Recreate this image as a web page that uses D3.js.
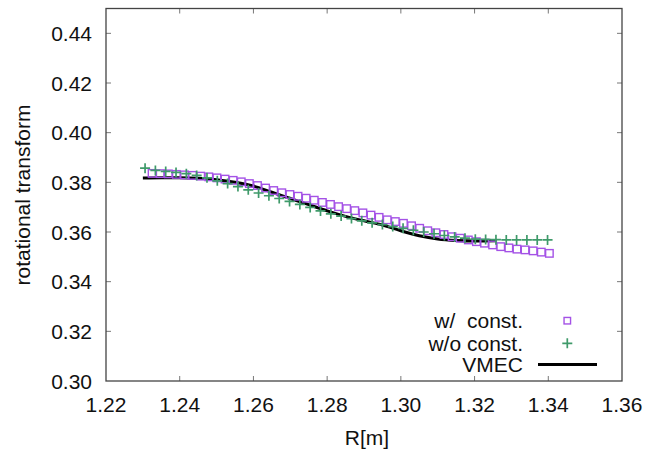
<!DOCTYPE html>
<html>
<head>
<meta charset="utf-8">
<script src="https://cdn.jsdelivr.net/npm/d3@7"></script>
<style>
  html, body { margin: 0; padding: 0; background: #fff; }
  svg { display: block; }
  text { font-family: "Liberation Sans", Arial, Helvetica, sans-serif; fill: #111; }
</style>
</head>
<body>
<script>
// ---- data ----
const xTicks = [1.22, 1.24, 1.26, 1.28, 1.30, 1.32, 1.34, 1.36];
const yTicks = [0.30, 0.32, 0.34, 0.36, 0.38, 0.40, 0.42, 0.44];

const withConstR = [1.2325,1.2347,1.2369,1.2391,1.2413,1.2435,1.2457,1.2479,1.2501,1.2523,
  1.2545,1.2567,1.2589,1.2611,1.2633,1.2655,1.2677,1.2699,1.2721,1.2743,
  1.2765,1.2787,1.2809,1.2831,1.2853,1.2875,1.2897,1.2919,1.2941,1.2963,
  1.2985,1.3007,1.3029,1.3051,1.3073,1.3095,1.3117,1.3139,1.3161,1.3183,
  1.3205,1.3227,1.3249,1.3271,1.3293,1.3315,1.3337,1.3359,1.3381,1.3403];
const withConstIota = [0.3836,0.3835,0.3834,0.3832,0.3830,0.3828,0.3825,0.3822,0.3818,0.3813,
  0.3808,0.3802,0.3795,0.3787,0.3777,0.3767,0.3758,0.3751,0.3744,0.3736,
  0.3728,0.3719,0.3711,0.3702,0.3694,0.3686,0.3677,0.3668,0.3659,0.3649,
  0.3642,0.3635,0.3625,0.3615,0.3605,0.3597,0.3590,0.3581,0.3575,0.3568,
  0.3561,0.3555,0.3548,0.3541,0.3536,0.3531,0.3528,0.3524,0.3519,0.3514];

const withoutConstR = [1.2306,1.2334,1.2362,1.2390,1.2418,1.2446,1.2474,1.2502,1.2530,1.2558,
  1.2586,1.2614,1.2642,1.2670,1.2698,1.2726,1.2754,1.2782,1.2810,1.2838,
  1.2866,1.2894,1.2922,1.2950,1.2978,1.3006,1.3034,1.3062,1.3090,1.3118,
  1.3146,1.3174,1.3202,1.3230,1.3258,1.3286,1.3314,1.3342,1.3370,1.3398];
const withoutConstIota = [0.3857,0.3848,0.3844,0.3840,0.3835,0.3828,0.3818,0.3806,0.3795,0.3783,
  0.3770,0.3757,0.3746,0.3735,0.3723,0.3711,0.3699,0.3685,0.3673,0.3664,
  0.3654,0.3645,0.3637,0.3630,0.3622,0.3615,0.3607,0.3600,0.3593,0.3586,
  0.3580,0.3575,0.3571,0.3570,0.3569,0.3568,0.3568,0.3568,0.3568,0.3568];

const vmecR = [1.230,1.235,1.240,1.245,1.250,1.255,1.260,1.265,1.270,1.275,
  1.280,1.285,1.290,1.295,1.300,1.305,1.310,1.315,1.320,1.326];
const vmecIota = [0.3817,0.3818,0.3818,0.3816,0.3810,0.3800,0.3785,0.3760,0.3735,0.3710,
  0.3685,0.3663,0.3645,0.3628,0.3605,0.3585,0.3572,0.3566,0.3564,0.3565];

const legendLabels = ["w/  const.", "w/o const.", "VMEC"];

// ---- layout ----
const W = 646, H = 453;
const plot = { left: 106, right: 622, top: 8.5, bottom: 381 };
const colSquare = "#a452e6";
const colPlus = "#3f9a6a";
const frameCol = "#444";
const tickCol = "#777";
const fontSize = 21;

const svg = d3.select("body").append("svg").attr("width", W).attr("height", H);

const x = d3.scaleLinear().domain([1.22, 1.36]).range([plot.left, plot.right]);
const y = d3.scaleLinear().domain([0.30, 0.45]).range([plot.bottom, plot.top]);

// ticks (inward, mirrored)
const tl = 5;
const gT = svg.append("g").attr("stroke", tickCol).attr("stroke-width", 1);
xTicks.slice(1, -1).forEach(v => {
  gT.append("line").attr("x1", x(v)).attr("x2", x(v)).attr("y1", plot.bottom).attr("y2", plot.bottom - tl);
  gT.append("line").attr("x1", x(v)).attr("x2", x(v)).attr("y1", plot.top).attr("y2", plot.top + tl);
});
yTicks.slice(1).forEach(v => {
  gT.append("line").attr("x1", plot.left).attr("x2", plot.left + tl).attr("y1", y(v)).attr("y2", y(v));
  gT.append("line").attr("x1", plot.right).attr("x2", plot.right - tl).attr("y1", y(v)).attr("y2", y(v));
});

// frame
svg.append("rect")
  .attr("x", plot.left).attr("y", plot.top)
  .attr("width", plot.right - plot.left).attr("height", plot.bottom - plot.top)
  .attr("fill", "none").attr("stroke", frameCol).attr("stroke-width", 1.3);

// tick labels
svg.append("g").selectAll("text").data(xTicks).join("text")
  .attr("x", d => x(d)).attr("y", 411.5)
  .attr("text-anchor", "middle").attr("font-size", fontSize)
  .text(d => d3.format(".2f")(d));
svg.append("g").selectAll("text").data(yTicks).join("text")
  .attr("x", 92).attr("y", d => y(d)).attr("dy", "0.36em")
  .attr("text-anchor", "end").attr("font-size", fontSize)
  .text(d => d3.format(".2f")(d));

// axis titles
svg.append("text").attr("x", 367).attr("y", 445).attr("text-anchor", "middle")
  .attr("font-size", 21).text("R[m]");
svg.append("text").attr("transform", "translate(30,195) rotate(-90)")
  .attr("text-anchor", "middle").attr("font-size", 21).text("rotational transform");

// marker drawers
function squareAt(g, cx, cy, s) {
  g.append("rect").attr("x", cx - s / 2).attr("y", cy - s / 2).attr("width", s).attr("height", s)
    .attr("fill", "none").attr("stroke", colSquare).attr("stroke-width", 1.4);
}
function plusAt(g, cx, cy) {
  g.append("path").attr("d", `M${cx - 5},${cy}H${cx + 5}M${cx},${cy - 5}V${cy + 5}`)
    .attr("stroke", colPlus).attr("stroke-width", 1.7).attr("fill", "none");
}

// VMEC line
const line = d3.line().curve(d3.curveMonotoneX).x(d => x(d[0])).y(d => y(d[1]));
svg.append("path").datum(vmecR.map((r, i) => [r, vmecIota[i]]))
  .attr("d", line).attr("fill", "none").attr("stroke", "#000").attr("stroke-width", 3);

// w/ const. squares
const gSq = svg.append("g");
withConstR.forEach((r, i) => squareAt(gSq, x(r), y(withConstIota[i]), 7.5));

// w/o const. pluses
const gPl = svg.append("g");
withoutConstR.forEach((r, i) => plusAt(gPl, x(r), y(withoutConstIota[i])));

// legend
const legY = [320.7, 343.3, 364.5];
const gL = svg.append("g");
legendLabels.forEach((lab, i) => {
  gL.append("text").attr("x", 523).attr("y", legY[i]).attr("dy", "0.36em")
    .attr("text-anchor", "end").attr("font-size", fontSize).text(lab)
    .style("white-space", "pre").attr("xml:space", "preserve");
});
squareAt(gL, 567.3, legY[0], 6.5);
plusAt(gL, 567.3, legY[1]);
gL.append("line").attr("x1", 538).attr("x2", 597).attr("y1", legY[2]).attr("y2", legY[2])
  .attr("stroke", "#000").attr("stroke-width", 3);
</script>
</body>
</html>
